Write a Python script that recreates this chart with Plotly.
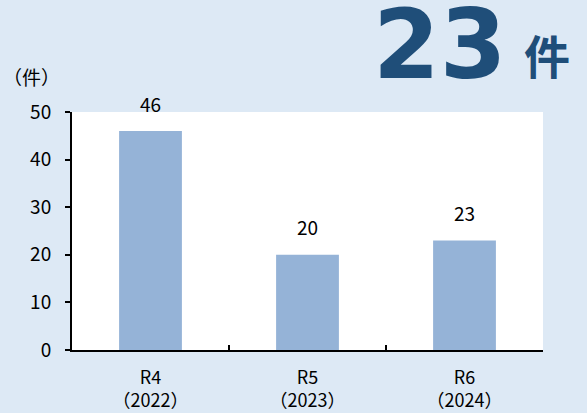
import plotly.graph_objects as go

categories = ["R4<br>（2022）", "R5<br>（2023）", "R6<br>（2024）"]
counts = [46, 20, 23]
latest_count = "23"
unit_label = "件"
axis_unit = "（件）"

jp_font = "Noto Sans CJK JP, Noto Sans, sans-serif"
bg = "#dde9f5"
bar_color = "#95b3d7"
navy = "#1f4e79"

fig = go.Figure()
fig.add_trace(
    go.Bar(
        x=categories,
        y=counts,
        marker=dict(color=bar_color, line=dict(width=0)),
        width=0.4,
        cliponaxis=False,
        hoverinfo="skip",
    )
)

for cat, val in zip(categories, counts):
    fig.add_annotation(
        x=cat, y=val, text=str(val), showarrow=False,
        yshift=28, font=dict(size=19, color="black", family=jp_font),
    )

fig.add_annotation(
    xref="paper", yref="paper", x=-0.15, y=1.15, xanchor="left", yanchor="middle",
    text=axis_unit, showarrow=False, font=dict(size=19, color="black", family=jp_font),
)
fig.add_annotation(
    xref="paper", yref="paper", x=0.635, y=1.282, xanchor="left", yanchor="middle",
    text="<b>" + latest_count + "</b>", showarrow=False,
    font=dict(size=96, color=navy, family="DejaVu Sans, sans-serif"),
)
fig.add_annotation(
    xref="paper", yref="paper", x=0.955, y=1.245, xanchor="left", yanchor="middle",
    text="<b>" + unit_label + "</b>", showarrow=False,
    font=dict(size=46, color=navy, family=jp_font),
)

fig.update_layout(
    width=587, height=413,
    margin=dict(l=72, r=44, t=112, b=63),
    paper_bgcolor=bg, plot_bgcolor="white",
    showlegend=False,
    bargap=0.6,
    font=dict(family=jp_font, size=18, color="black"),
)
fig.update_xaxes(
    showline=True, linecolor="black", linewidth=2,
    ticks="inside", tickson="boundaries", ticklen=5, tickcolor="black", tickwidth=2,
    showgrid=False, tickfont=dict(size=18, color="black"),
    ticklabelstandoff=10, automargin=False,
)
fig.update_yaxes(
    range=[0, 50], dtick=10, showline=True, linecolor="black", linewidth=2,
    ticks="outside", ticklen=5, tickcolor="black", tickwidth=2,
    showgrid=False, zeroline=False, tickfont=dict(size=19, color="black"),
    ticklabelstandoff=10, automargin=False,
)

fig.write_html(
    "out.html",
    config={"displayModeBar": False},
    post_script="document.body.style.margin='0';",
)
